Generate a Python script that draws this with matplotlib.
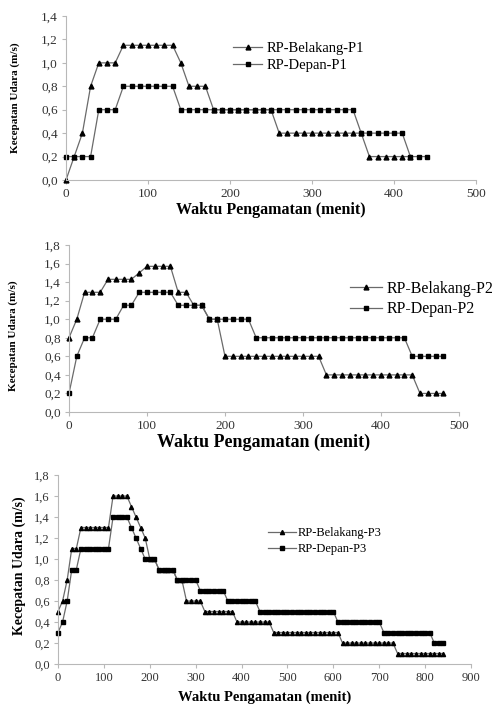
import numpy as np
import matplotlib
matplotlib.use("Agg")
import matplotlib.pyplot as plt
from matplotlib.ticker import FuncFormatter

plt.rcParams['font.family'] = ['Liberation Serif', 'DejaVu Serif']

# --- P1 ---
waktu_bel1 = np.arange(0, 430, 10)
bel1 = [0.0, 0.2, 0.4, 0.8, 1.0, 1.0, 1.0,
        1.15, 1.15, 1.15, 1.15, 1.15, 1.15, 1.15,
        1.0, 0.8, 0.8, 0.8,
        0.6, 0.6, 0.6, 0.6, 0.6, 0.6, 0.6, 0.6,
        0.4, 0.4, 0.4, 0.4, 0.4, 0.4, 0.4, 0.4, 0.4, 0.4, 0.4,
        0.2, 0.2, 0.2, 0.2, 0.2, 0.2]
waktu_dep1 = np.arange(0, 450, 10)
dep1 = [0.2, 0.2, 0.2, 0.2, 0.6, 0.6, 0.6,
        0.8, 0.8, 0.8, 0.8, 0.8, 0.8, 0.8,
        0.6, 0.6, 0.6, 0.6, 0.6, 0.6, 0.6, 0.6, 0.6, 0.6, 0.6,
        0.6, 0.6, 0.6, 0.6, 0.6, 0.6, 0.6, 0.6, 0.6, 0.6, 0.6,
        0.4, 0.4, 0.4, 0.4, 0.4, 0.4,
        0.2, 0.2, 0.2]

# --- P2 ---
waktu2 = np.arange(0, 490, 10)
bel2 = [0.8, 1.0, 1.29, 1.29, 1.29, 1.43, 1.43, 1.43, 1.43, 1.5,
        1.57, 1.57, 1.57, 1.57, 1.29, 1.29, 1.15, 1.15, 1.0, 1.0,
        0.6, 0.6, 0.6, 0.6, 0.6, 0.6, 0.6, 0.6, 0.6, 0.6, 0.6, 0.6, 0.6,
        0.4, 0.4, 0.4, 0.4, 0.4, 0.4, 0.4, 0.4, 0.4, 0.4, 0.4, 0.4,
        0.2, 0.2, 0.2, 0.2]
dep2 = [0.2, 0.6, 0.8, 0.8, 1.0, 1.0, 1.0, 1.15, 1.15,
        1.29, 1.29, 1.29, 1.29, 1.29,
        1.15, 1.15, 1.15, 1.15,
        1.0, 1.0, 1.0, 1.0, 1.0, 1.0,
        0.8, 0.8, 0.8, 0.8, 0.8, 0.8, 0.8, 0.8, 0.8, 0.8,
        0.8, 0.8, 0.8, 0.8, 0.8, 0.8, 0.8, 0.8, 0.8, 0.8,
        0.6, 0.6, 0.6, 0.6, 0.6]

# --- P3 ---
waktu3 = np.arange(0, 850, 10)
bel3 = [0.5, 0.6, 0.8, 1.1, 1.1,
        1.3, 1.3, 1.3, 1.3, 1.3, 1.3, 1.3,
        1.6, 1.6, 1.6, 1.6,
        1.5, 1.4, 1.3, 1.2,
        1.0, 1.0, 0.9, 0.9, 0.9, 0.9, 0.8, 0.8,
        0.6, 0.6, 0.6, 0.6,
        0.5, 0.5, 0.5, 0.5, 0.5, 0.5, 0.5,
        0.4, 0.4, 0.4, 0.4, 0.4, 0.4, 0.4, 0.4,
        0.3, 0.3, 0.3, 0.3, 0.3, 0.3, 0.3, 0.3, 0.3, 0.3, 0.3, 0.3, 0.3, 0.3, 0.3,
        0.2, 0.2, 0.2, 0.2, 0.2, 0.2, 0.2, 0.2, 0.2, 0.2, 0.2, 0.2,
        0.1, 0.1, 0.1, 0.1, 0.1, 0.1, 0.1, 0.1, 0.1, 0.1, 0.1]
dep3 = [0.3, 0.4, 0.6, 0.9, 0.9,
        1.1, 1.1, 1.1, 1.1, 1.1, 1.1, 1.1,
        1.4, 1.4, 1.4, 1.4,
        1.3, 1.2, 1.1,
        1.0, 1.0, 1.0,
        0.9, 0.9, 0.9, 0.9,
        0.8, 0.8, 0.8, 0.8, 0.8,
        0.7, 0.7, 0.7, 0.7, 0.7, 0.7,
        0.6, 0.6, 0.6, 0.6, 0.6, 0.6, 0.6,
        0.5, 0.5, 0.5, 0.5, 0.5, 0.5, 0.5, 0.5, 0.5, 0.5, 0.5, 0.5, 0.5, 0.5, 0.5, 0.5, 0.5,
        0.4, 0.4, 0.4, 0.4, 0.4, 0.4, 0.4, 0.4, 0.4, 0.4,
        0.3, 0.3, 0.3, 0.3, 0.3, 0.3, 0.3, 0.3, 0.3, 0.3, 0.3,
        0.2, 0.2, 0.2]

W, H = 496, 706
fig = plt.figure(figsize=(W / 100, H / 100), dpi=100)
comma = FuncFormatter(lambda v, p: ('%.1f' % v).replace('.', ','))


def px(x, y):
    return x / W, 1 - y / H


def panel(box, xmax, xstep, ymax, tick_fs, xl_fs, yl_fs, xl_y, yl_x, yl_y=None):
    l, t, r, b = box
    ax = fig.add_axes([l / W, 1 - b / H, (r - l) / W, (b - t) / H])
    ax.set_xlim(0, xmax)
    ax.set_ylim(0, ymax)
    ax.set_xticks(np.arange(0, xmax + 1, xstep))
    ax.set_yticks(np.arange(0, ymax + 0.01, 0.2))
    ax.yaxis.set_major_formatter(comma)
    for s in ['top', 'right']:
        ax.spines[s].set_visible(False)
    for s in ['left', 'bottom']:
        ax.spines[s].set_color('#b8b8b8')
        ax.spines[s].set_linewidth(0.8)
    ax.tick_params(direction='out', length=3, width=0.8, color='#b8b8b8',
                   labelsize=tick_fs, labelcolor='#333333', pad=3)
    ax.set_xlabel('Waktu Pengamatan (menit)', fontsize=xl_fs, fontweight='bold')
    ax.xaxis.set_label_coords(*px((l + r) / 2, xl_y), transform=fig.transFigure)
    ax.xaxis.label.set_va('center')
    if yl_y is None:
        yl_y = (t + b) / 2
    ax.set_ylabel('Kecepatan Udara (m/s)', fontsize=yl_fs, fontweight='bold')
    ax.yaxis.set_label_coords(*px(yl_x, yl_y), transform=fig.transFigure)
    ax.yaxis.label.set_va('center')
    return ax


line_kw = dict(color='#6a6a6a', lw=0.9, mfc='black', mec='black', clip_on=False)

# panel 1
ax1 = panel((66, 16, 476, 180), 500, 100, 1.4, 9.5, 11.5, 8, 210, 15)
ax1.plot(waktu_bel1, bel1, marker='^', ms=3.5, label='RP-Belakang-P1', **line_kw)
ax1.plot(waktu_dep1, dep1, marker='s', ms=3.2, label='RP-Depan-P1', **line_kw)
ax1.legend(loc='center left', bbox_to_anchor=px(233, 57), bbox_transform=fig.transFigure,
           frameon=False, fontsize=10.5, handlelength=2.0, handletextpad=0.3,
           labelspacing=0.25, borderpad=0, borderaxespad=0)

# panel 2
ax2 = panel((69, 245, 459, 412), 500, 100, 1.8, 9.5, 13, 8, 442, 13, 336)
ax2.plot(waktu2, bel2, marker='^', ms=3.5, label='RP-Belakang-P2', **line_kw)
ax2.plot(waktu2, dep2, marker='s', ms=3.2, label='RP-Depan-P2', **line_kw)
ax2.legend(loc='center left', bbox_to_anchor=px(350, 299), bbox_transform=fig.transFigure,
           frameon=False, fontsize=11.5, handlelength=2.0, handletextpad=0.3,
           labelspacing=0.3, borderpad=0, borderaxespad=0)

# panel 3
ax3 = panel((58, 475, 471, 664), 900, 100, 1.8, 9, 10.5, 10, 697, 19, 566)
ax3.plot(waktu3, bel3, marker='^', ms=3.0, label='RP-Belakang-P3', **line_kw)
ax3.plot(waktu3, dep3, marker='s', ms=3.0, label='RP-Depan-P3', **line_kw)
ax3.legend(loc='center left', bbox_to_anchor=px(268, 541), bbox_transform=fig.transFigure,
           frameon=False, fontsize=9, handlelength=2.2, handletextpad=0.2,
           labelspacing=0.3, borderpad=0, borderaxespad=0)

fig.savefig('out.png', dpi=100)
